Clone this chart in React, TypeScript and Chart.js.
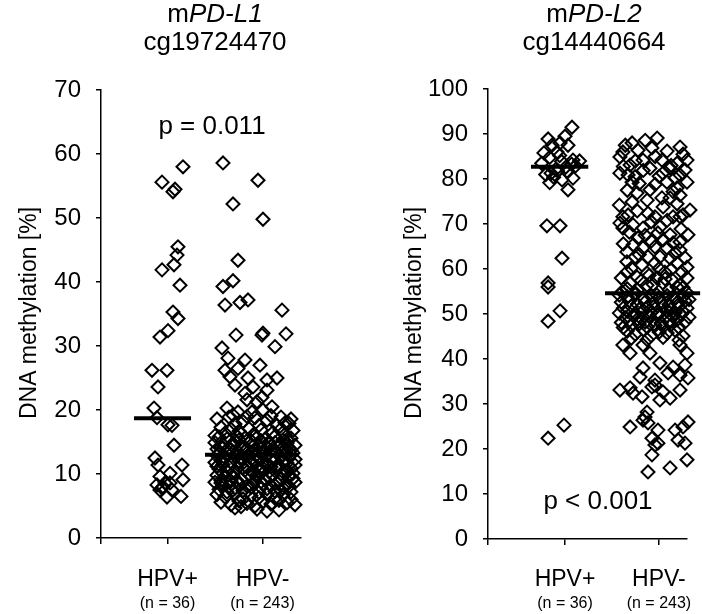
import React, { useEffect, useRef } from 'react';
import { Chart, registerables } from 'chart.js';

Chart.register(...registerables);

const FONT = '"Liberation Sans", Arial, Helvetica, sans-serif';

// ---------- shared text ----------
const groupLabels = ['HPV+', 'HPV-'];
const groupCounts = ['(n = 36)', '(n = 243)'];
const yAxisTitle = 'DNA methylation [%]';

// ---------- panel 1: mPD-L1 cg19724470 ----------
const pdl1Gene = 'PD-L1';
const pdl1Probe = 'cg19724470';
const pdl1PValue = 'p = 0.011';
const pdl1YMax = 70;
const pdl1GroupTicks = [33.25, 80.75];
const pdl1Medians = [18.7, 13.0];

// [jitter x, methylation %]
const pdl1Pos = [
  [41, 58.0], [30.5, 55.6], [37, 54.5], [36, 54.1], [38.5, 45.5], [38, 44.2], [36.5, 42.7], [30.5, 41.9],
  [39.5, 39.5], [36, 35.3], [38.5, 34.3], [33.5, 32.4], [29.5, 31.4], [25.5, 26.2], [33, 26.2], [28.5, 23.6],
  [26.5, 20.3], [28, 18.8], [33.5, 17.7], [35.5, 17.6], [36.5, 14.5], [27, 12.5], [28.5, 11.4], [40.5, 11.4],
  [34.5, 10.1], [41, 9.1], [29.5, 9.6], [28, 8.3], [31, 8.0], [35.5, 7.5], [33, 6.4], [40, 6.5],
  [29.5, 7.5], [32, 8.6], [34.5, 8.6], [30.5, 7.8],
];

const pdl1Neg = [
  [61, 58.6], [78.5, 55.9], [66, 52.2], [81, 49.8], [68.5, 43.4], [66, 40.2], [61, 39.3], [73.5, 37.2],
  [69.5, 36.8], [62, 36.4], [90.5, 35.6], [67.5, 31.7], [80.5, 31.7], [81, 32.0], [92.5, 31.9],
  [87, 29.9], [60.5, 29.7], [63.5, 28.1], [72, 27.8], [79.5, 27.0], [62, 26.2], [68.5, 26.5], [88, 25.0],
  [64.5, 25.2], [73.5, 25.0], [83, 24.7], [67, 23.9], [76, 23.6], [83, 23.1], [72, 22.6], [80.5, 22.0],
  [73, 21.6], [78, 21.3], [85.5, 20.5], [63, 20.3], [68.5, 19.7], [66, 19.2], [75.5, 19.7], [81, 20.0],
  [92, 18.0], [89.5, 16.9],
  [58, 18.6], [64, 18.9], [71, 18.2], [77, 18.8], [83, 18.4], [88, 17.6], [94, 17.9], [60, 17.3], [67, 17.8],
  [74, 17.1], [80, 16.9], [86, 16.5], [92, 16.2], [62, 16.4], [69, 16.7], [76, 16.1], [95, 18.6], [57, 16.0],
  [73, 19.0], [85, 19.1], [90, 18.9], [65, 17.0], [79, 17.6], [70, 16.3], [96, 16.8],
  [59, 15.8], [63, 15.5], [68, 15.9], [72, 15.6], [75, 15.2], [78, 15.7], [82, 15.4], [87, 15.9], [91, 15.3], [95, 15.6],
  [57, 14.9], [61, 14.6], [66, 14.8], [70, 14.4], [74, 14.9], [79, 14.5], [84, 14.7], [89, 14.3], [93, 14.8], [97, 14.5],
  [58, 13.9], [62, 13.5], [65, 13.8], [69, 13.3], [73, 13.9], [77, 13.6], [81, 13.2], [85, 13.7], [88, 13.4], [92, 13.9], [96, 13.3],
  [60, 14.2], [64, 14.0], [71, 14.1], [76, 14.3], [80, 13.9], [83, 14.1], [86, 14.0], [90, 14.6], [94, 14.1],
  [67, 15.1], [72, 13.6], [78, 13.1], [84, 15.0], [91, 13.5], [63, 13.2], [69, 15.3], [75, 13.4], [87, 14.9], [95, 13.7],
  [59, 13.1], [66, 13.4], [80, 15.2], [93, 15.4],
  [58, 12.9], [62, 12.5], [67, 12.8], [71, 12.3], [74, 12.7], [79, 12.4], [83, 12.9], [87, 12.2], [90, 12.6], [94, 12.8],
  [57, 11.8], [61, 11.5], [65, 11.9], [70, 11.4], [75, 11.8], [78, 11.2], [82, 11.6], [86, 11.9], [89, 11.3], [93, 11.7], [97, 11.4],
  [59, 10.8], [63, 10.4], [68, 10.9], [72, 10.6], [76, 10.2], [80, 10.7], [84, 10.3], [88, 10.8], [92, 10.5], [96, 10.1],
  [60, 12.1], [64, 11.1], [69, 12.0], [73, 11.0], [77, 12.1], [81, 10.9], [85, 11.1], [91, 12.0], [95, 10.9],
  [66, 10.2], [70, 12.6], [79, 10.5], [86, 12.7], [93, 10.3], [61, 10.1], [74, 10.0], [83, 11.3], [90, 10.0], [58, 11.2], [97, 12.3],
  [58, 9.8], [62, 9.4], [66, 9.7], [70, 9.2], [74, 9.9], [78, 9.5], [82, 9.1], [86, 9.8], [90, 9.3], [94, 9.6],
  [57, 8.7], [61, 8.3], [65, 8.9], [69, 8.4], [73, 8.1], [77, 8.8], [81, 8.5], [85, 8.2], [89, 8.9], [93, 8.4], [97, 8.7],
  [59, 7.6], [63, 7.2], [67, 7.8], [71, 7.4], [75, 7.9], [79, 7.1], [83, 7.7], [87, 7.3], [91, 7.8], [95, 7.2],
  [60, 9.0], [68, 9.0], [76, 8.6], [84, 9.4], [92, 8.0], [64, 8.0], [72, 7.0], [80, 7.9], [88, 8.6], [96, 9.3], [66, 7.5], [78, 9.9], [90, 7.5], [94, 8.1],
  [58, 6.8], [62, 6.4], [67, 6.9], [71, 6.1], [75, 6.6], [79, 6.3], [83, 6.8], [87, 6.2], [91, 6.7], [95, 6.0],
  [60, 5.6], [65, 5.2], [69, 5.8], [73, 5.4], [77, 5.0], [81, 5.7], [85, 5.3], [89, 5.9], [93, 5.5], [97, 5.2],
  [67, 4.7], [78, 4.5], [83, 4.2], [70, 4.9], [89, 4.4], [60, 8.6],
];

// ---------- panel 2: mPD-L2 cg14440664 ----------
const pdl2Gene = 'PD-L2';
const pdl2Probe = 'cg14440664';
const pdl2PValue = 'p < 0.001';
const pdl2YMax = 100;
const pdl2GroupTicks = [38.7, 85.9];
const pdl2Medians = [82.7, 54.6];

const pdl2Pos = [
  [42.2, 91.5], [30.2, 88.9], [38.7, 89.5], [36.2, 88.0], [32.2, 87.5], [40.2, 87.5], [28.1, 85.8], [34.7, 86.0],
  [42.7, 84.2], [31.7, 81.3], [42.7, 80.2], [40.2, 77.6], [37.2, 79.8], [29.6, 69.6], [36.2, 69.6], [37.2, 62.4],
  [30.2, 56.9], [30.2, 56.0], [30.2, 48.4], [36.2, 50.7], [30.2, 22.4], [38.2, 25.3],
  [27, 83.5], [31, 84.8], [34, 82.1], [37, 83.9], [40, 81.6], [44, 82.9], [29, 81.0], [33, 80.4], [36, 85.2],
  [39, 82.6], [42, 83.3], [46, 84.0], [35, 81.8], [31, 79.2],
];

const pdl2Neg = [
  [85, 89.1], [72.4, 88.0], [96.5, 87.1], [67.8, 86.0], [75.4, 86.4], [82.4, 86.9], [66.3, 84.9], [77.9, 84.2],
  [87.4, 84.2], [100, 84.2], [95, 83.5], [71.4, 83.1], [81.4, 82.4], [91.5, 82.4], [66.3, 81.3], [70.4, 80.9],
  [73.9, 80.5], [87.9, 81.3], [96.5, 80.9], [94, 80.2], [72.4, 79.3], [89.9, 79.3], [100, 79.3], [81.4, 77.6],
  [95, 78.0], [74.9, 76.9], [87.4, 75.8], [91.5, 75.8], [72.4, 74.9], [96.5, 76.4], [67.8, 71.6], [70.4, 72.0],
  [80.4, 72.4], [83.9, 71.6], [93, 71.6], [98, 72.0], [101.5, 73.1], [96.5, 71.6], [66.3, 70.2], [72.9, 69.8],
  [77.9, 69.1], [86.4, 69.3], [67.8, 69.1], [85.4, 68.0], [75.4, 66.9], [91.5, 67.6], [100.5, 67.6], [96.5, 66.0],
  [93, 65.8], [83.9, 64.9], [77.9, 64.7], [89.9, 64.7], [69.8, 63.8], [96.5, 64.2], [73.9, 62.7], [80.4, 62.7],
  [86.4, 62.7], [91.5, 62.4], [69.8, 61.6], [77.4, 60.9], [83.9, 61.3], [95, 61.3], [100, 60.4], [69.8, 59.3],
  [79.9, 59.1], [88.9, 59.3], [97.5, 59.3], [74.9, 58.2], [84.9, 58.0], [92.5, 57.6], [100, 58.0], [71.4, 56.9],
  [79.9, 56.4], [87.9, 56.9], [96.5, 56.4], [67.3, 54.9], [73.9, 54.7], [84.9, 54.2], [93, 53.8], [100, 54.7],
  [67.8, 43.1], [71.4, 41.3], [77.9, 43.1], [81.4, 41.3], [96.5, 43.1], [100, 41.3], [86.4, 39.1], [77.9, 38.0],
  [93, 38.2], [99, 38.7], [76.4, 36.0], [83.9, 35.3], [90.5, 36.9], [96.5, 36.4], [100.5, 35.8], [66.3, 33.1],
  [71.4, 33.6], [72.9, 32.4], [77.4, 31.6], [82.4, 33.8], [83.9, 34.2], [87.9, 32.7], [91.5, 31.3], [96.5, 33.1],
  [86.4, 30.9], [79.9, 28.2], [78.9, 27.1], [77.9, 26.4], [71.4, 24.9], [80.4, 25.8], [85.4, 24.2], [94, 24.2],
  [100.5, 26.0], [98, 24.9], [82.4, 22.4], [85.4, 21.3], [83.9, 20.9], [95.5, 22.0], [99, 21.3], [82.4, 18.7],
  [100, 17.6], [80.4, 14.9], [91.5, 15.8],
  [69, 87.5], [79, 88.6], [90, 86.2], [98, 85.5], [74, 84.0], [84, 85.0], [92, 83.0], [68, 82.8], [78, 81.9], [86, 80.6],
  [99, 82.0], [76, 79.0], [84, 78.8], [93, 77.2], [70, 77.5], [80, 75.3], [88, 73.8], [66, 74.2], [75, 72.9], [95, 74.5],
  [82, 70.5], [90, 70.8], [71, 68.2], [79, 67.5], [88, 66.5], [97, 68.9], [73, 65.4], [82, 66.2], [94, 63.5], [68, 65.6],
  [76, 63.2], [86, 60.1], [92, 59.9], [72, 60.2], [81, 58.6], [99, 62.5], [67, 58.0], [77, 57.4], [89, 57.8], [95, 56.0],
  [70, 55.6], [75, 55.3], [83, 56.6], [91, 55.4], [98, 55.9],
  [66, 54.2], [70, 53.8], [74, 54.3], [78, 53.5], [82, 54.0], [86, 53.6], [90, 54.1], [94, 53.4], [98, 53.9], [101, 53.2],
  [67, 52.6], [71, 52.9], [75, 52.2], [79, 52.7], [83, 52.4], [87, 52.8], [91, 52.1], [95, 52.5], [99, 52.9],
  [68, 51.3], [72, 51.7], [76, 51.0], [80, 51.5], [84, 51.2], [88, 51.8], [92, 51.1], [96, 51.6], [100, 51.3],
  [66, 50.2], [70, 50.6], [74, 50.1], [78, 50.8], [82, 50.4], [86, 50.0], [90, 50.7], [94, 50.3], [98, 50.5],
  [69, 49.2], [73, 49.6], [77, 49.0], [81, 49.5], [85, 49.8], [89, 49.1], [93, 49.4], [97, 49.9], [101, 49.3],
  [67, 48.1], [71, 48.5], [75, 48.8], [79, 48.2], [83, 48.6], [87, 48.0], [91, 48.4], [95, 48.7], [99, 48.2],
  [68, 47.0], [72, 47.4], [76, 47.8], [80, 47.1], [84, 47.5], [88, 47.2], [92, 47.6], [96, 47.0],
  [70, 46.2], [78, 46.5], [86, 46.0], [94, 46.4], [74, 45.5], [82, 45.2], [90, 45.8], [98, 45.1],
  [72, 44.6], [80, 44.3], [88, 44.8], [96, 44.2],
];

// ---------- layout / style (not data) ----------
type PanelLayout = {
  yAxisWidth: number; padRight: number; padTop: number; xAxisHeight: number;
  titleX: number; pX: number; pY: number; yTitleX: number; yTitleY: number;
  medianSpans: [number, number][]; // [center, half width] in x units
};

const layout1: PanelLayout = {
  yAxisWidth: 101, padRight: 50, padTop: 90, xAxisHeight: 76,
  titleX: 215, pX: 212, pY: 127, yTitleX: 30, yTitleY: 313,
  medianSpans: [[30.75, 14.25], [75.25, 23.25]],
};
const layout2: PanelLayout = {
  yAxisWidth: 137, padRight: 15, padTop: 89, xAxisHeight: 75,
  titleX: 243, pX: 247, pY: 502, yTitleX: 64, yTitleY: 313,
  medianSpans: [[36, 14.4], [82.7, 23.9]],
};

type Panel = {
  gene: string; probe: string; pText: string; yMax: number; groupTicks: number[];
  medians: number[]; pos: number[][]; neg: number[][]; lay: PanelLayout;
};

const panels: Panel[] = [
  { gene: pdl1Gene, probe: pdl1Probe, pText: pdl1PValue, yMax: pdl1YMax, groupTicks: pdl1GroupTicks, medians: pdl1Medians, pos: pdl1Pos, neg: pdl1Neg, lay: layout1 },
  { gene: pdl2Gene, probe: pdl2Probe, pText: pdl2PValue, yMax: pdl2YMax, groupTicks: pdl2GroupTicks, medians: pdl2Medians, pos: pdl2Pos, neg: pdl2Neg, lay: layout2 },
];

const W = 351;
const H = 614;

function makeChart(canvas: HTMLCanvasElement, p: Panel) {
  const lay = p.lay;
  const pointStyle = {
    pointStyle: 'rectRot' as const,
    pointRadius: 6.5,
    pointBorderWidth: 2,
    pointBorderColor: '#000',
    pointBackgroundColor: 'rgba(0,0,0,0)',
    showLine: false,
    clip: false as const,
  };
  const medianDatasets = p.medians.map((m, i) => ({
    data: [
      { x: lay.medianSpans[i][0] - lay.medianSpans[i][1], y: m },
      { x: lay.medianSpans[i][0] + lay.medianSpans[i][1], y: m },
    ],
    showLine: true,
    borderColor: '#000',
    borderWidth: 4,
    pointRadius: 0,
    clip: false as const,
  }));

  const textPlugin = {
    id: 'panelText',
    afterDraw(chart: any) {
      const ctx: CanvasRenderingContext2D = chart.ctx;
      ctx.save();
      ctx.fillStyle = '#000';
      ctx.textBaseline = 'middle';
      // title line 1: m + italic gene
      const fs = 26;
      ctx.font = `${fs}px ${FONT}`;
      const wm = ctx.measureText('m').width;
      ctx.font = `italic ${fs}px ${FONT}`;
      const wg = ctx.measureText(p.gene).width;
      const x0 = lay.titleX - (wm + wg) / 2;
      ctx.textAlign = 'left';
      ctx.font = `${fs}px ${FONT}`;
      ctx.fillText('m', x0, 15);
      ctx.font = `italic ${fs}px ${FONT}`;
      ctx.fillText(p.gene, x0 + wm, 15);
      ctx.font = `${fs}px ${FONT}`;
      ctx.textAlign = 'center';
      ctx.fillText(p.probe, lay.titleX, 43);
      // p value
      ctx.font = `26px ${FONT}`;
      ctx.fillText(p.pText, lay.pX, lay.pY);
      // y title
      ctx.save();
      ctx.translate(lay.yTitleX, lay.yTitleY);
      ctx.rotate(-Math.PI / 2);
      ctx.font = `23px ${FONT}`;
      ctx.fillText(yAxisTitle, 0, 0);
      ctx.restore();
      // x group labels
      const xs = chart.scales.x;
      p.groupTicks.forEach((t, i) => {
        const px = xs.getPixelForValue(t);
        ctx.font = `23px ${FONT}`;
        ctx.fillText(groupLabels[i], px, 580);
        ctx.font = `16px ${FONT}`;
        ctx.fillText(groupCounts[i], px, 604);
      });
      ctx.restore();
    },
  };

  return new Chart(canvas, {
    type: 'scatter',
    data: {
      datasets: [
        ...medianDatasets,
        { data: p.pos.map(([x, y]) => ({ x, y })), ...pointStyle },
        { data: p.neg.map(([x, y]) => ({ x, y })), ...pointStyle },
      ] as any,
    },
    options: {
      responsive: false,
      animation: false,
      devicePixelRatio: 1,
      layout: { padding: { left: 0, right: lay.padRight, top: lay.padTop, bottom: 0 } },
      plugins: { legend: { display: false }, tooltip: { enabled: false }, title: { display: false } },
      events: [],
      scales: {
        x: {
          type: 'linear',
          min: 0,
          max: 100,
          afterBuildTicks: (s: any) => { s.ticks = [{ value: 0 }, ...p.groupTicks.map((v) => ({ value: v }))]; },
          afterFit: (s: any) => { s.height = lay.xAxisHeight; },
          ticks: { display: false },
          grid: { drawOnChartArea: false, drawTicks: true, tickLength: 6, color: '#000', lineWidth: 1.5 },
          border: { display: true, color: '#000', width: 1.5 },
        },
        y: {
          type: 'linear',
          min: 0,
          max: p.yMax,
          afterFit: (s: any) => { s.width = lay.yAxisWidth; },
          ticks: { stepSize: 10, color: '#000', font: { family: FONT, size: 24 }, padding: 15 },
          grid: { drawOnChartArea: false, drawTicks: true, tickLength: 5, color: '#000', lineWidth: 1.5 },
          border: { display: true, color: '#000', width: 1.5 },
        },
      },
    } as any,
    plugins: [textPlugin],
  });
}

function PanelView({ panel, left }: { panel: Panel; left: number }) {
  const ref = useRef<HTMLCanvasElement>(null);
  useEffect(() => {
    if (!ref.current) return;
    const chart = makeChart(ref.current, panel);
    return () => chart.destroy();
  }, [panel]);
  return (
    <canvas
      ref={ref}
      width={W}
      height={H}
      style={{ position: 'absolute', left, top: 0, width: W, height: H }}
    />
  );
}

export default function App() {
  return (
    <div style={{ position: 'absolute', left: 0, top: 0, width: 702, height: 614, background: '#fff' }}>
      <PanelView panel={panels[0]} left={0} />
      <PanelView panel={panels[1]} left={351} />
    </div>
  );
}
